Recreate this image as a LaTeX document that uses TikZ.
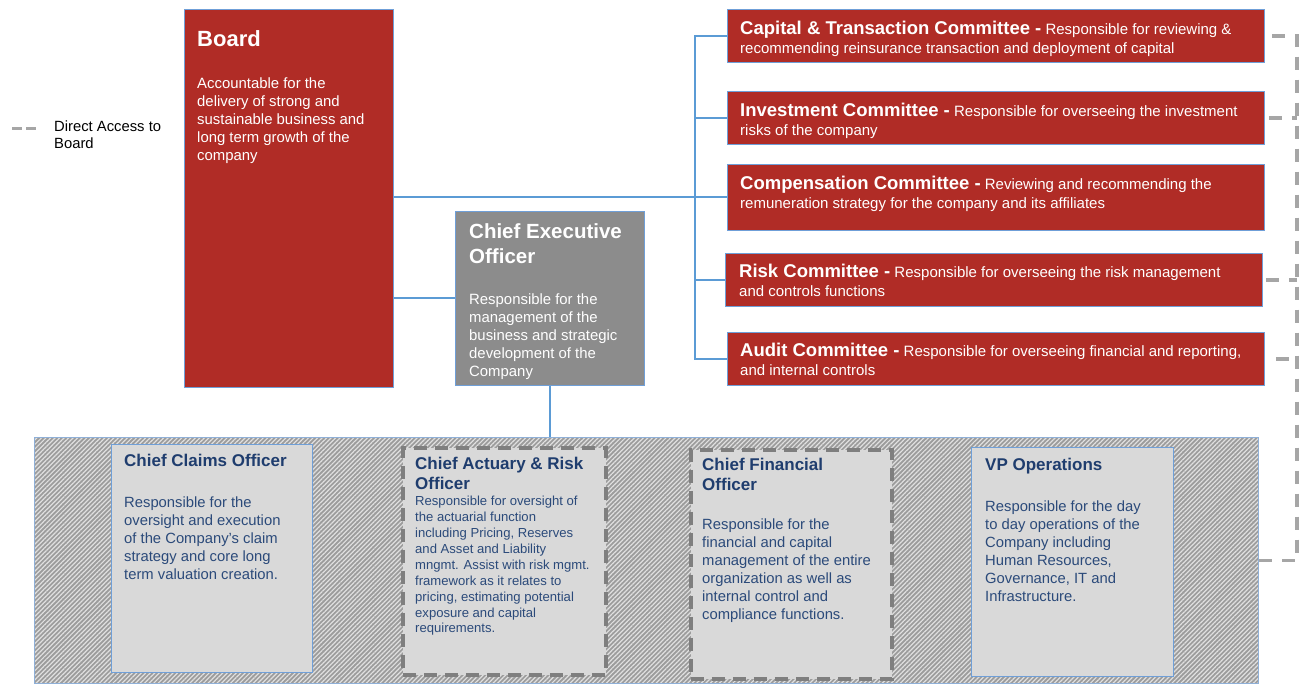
\documentclass[tikz,border=0pt]{standalone}
\usepackage{fontspec}
\setmainfont{Liberation Sans}
\usetikzlibrary{patterns.meta,calc}
\definecolor{boardred}{HTML}{B02C26}
\definecolor{ceogray}{HTML}{8C8C8C}
\definecolor{boxgray}{HTML}{D9D9D9}
\definecolor{edgeblue}{HTML}{6F9FD8}
\definecolor{bandedge}{HTML}{8FB0D8}
\definecolor{connblue}{HTML}{5B9BD5}
\definecolor{accgray}{HTML}{A6A6A6}
\definecolor{dashgray}{HTML}{7F7F7F}
\definecolor{navy}{HTML}{1F3D6E}
\definecolor{bodyblue}{HTML}{2B4A7A}
\definecolor{hatchdark}{HTML}{9C9C9C}
\definecolor{hatchlight}{HTML}{E0E0E0}
\newcommand\cmtitle{\bfseries\fontsize{18.5}{20}\selectfont}
\begin{document}
\begin{tikzpicture}[x=1pt,y=-1pt,
  redbox/.style={draw=edgeblue,line width=0.8pt,fill=boardred,anchor=north west,inner sep=0pt},
  ceobox/.style={draw=edgeblue,line width=0.8pt,fill=ceogray,anchor=north west,inner sep=0pt},
  offbox/.style={draw=edgeblue,line width=0.8pt,fill=boxgray,anchor=north west,inner sep=0pt},
  offdash/.style={draw=dashgray,line width=3.5pt,dash pattern=on 13pt off 8pt,fill=boxgray,anchor=north west,inner sep=0pt},
  conn/.style={draw=connblue,line width=2pt},
  acc/.style={draw=accgray,line width=3.2pt,dash pattern=on 13pt off 10pt},
  txt/.style={anchor=north west,inner sep=0pt,align=left},
  wtitle/.style={txt,text=white,font=\bfseries\fontsize{20.5}{25}\selectfont},
  wbody/.style={txt,text=white,font=\fontsize{14.9}{18}\selectfont},
  ctext/.style={txt,text=white,font=\fontsize{15}{19}\selectfont},
  btitle/.style={txt,text=navy,font=\bfseries\fontsize{17}{20}\selectfont},
  bbody/.style={txt,text=bodyblue,font=\fontsize{14.8}{18}\selectfont}
]
\useasboundingbox (0,0) rectangle (1301,683);

% legend
\coordinate (lg1) at (12,128);
\coordinate (lg2) at (36,128);
\draw[accgray,line width=3pt,dash pattern=on 10pt off 4pt] (lg1) -- (lg2);
\node[txt,font=\fontsize{14.8}{17}\selectfont] (legend) at (54,121) {Direct Access to\\Board};

% Board
\node[redbox,minimum width=209pt,minimum height=378pt] (board) at (184,9) {};
\node[anchor=base west,inner sep=0pt,text=white,font=\bfseries\fontsize{22}{26}\selectfont] (boardt) at (197,46) {Board};
\node[wbody] (boardb) at (197,77) {Accountable for the\\delivery of strong and\\sustainable business and\\long term growth of the\\company};

% CEO
\node[ceobox,minimum width=189pt,minimum height=174pt] (ceo) at (455,211) {};
\node[wtitle] (ceot) at (469,223) {Chief Executive\\Officer};
\node[wbody] (ceob) at (469,293) {Responsible for the\\management of the\\business and strategic\\development of the\\Company};

% Committees
\node[redbox,minimum width=537pt,minimum height=53pt] (cap) at (727,9) {};
\node[ctext] (capt) at (740,21) {{\cmtitle Capital \& Transaction Committee -} Responsible for reviewing \&\\recommending reinsurance transaction and deployment of capital};
\node[redbox,minimum width=537pt,minimum height=53pt] (inv) at (727,91) {};
\node[ctext] (invt) at (740,103) {{\cmtitle Investment Committee -} Responsible for overseeing the investment\\risks of the company};
\node[redbox,minimum width=537pt,minimum height=66pt] (comp) at (727,164) {};
\node[ctext] (compt) at (740,176) {{\cmtitle Compensation Committee -} Reviewing and recommending the\\remuneration strategy for the company and its affiliates};
\node[redbox,minimum width=537pt,minimum height=53pt] (risk) at (725,253) {};
\node[ctext] (riskt) at (739,264) {{\cmtitle Risk Committee -} Responsible for overseeing the risk management\\and controls functions};
\node[redbox,minimum width=537pt,minimum height=53pt] (aud) at (727,332) {};
\node[ctext] (audt) at (740,343) {{\cmtitle Audit Committee -} Responsible for overseeing financial and reporting,\\and internal controls};

% band
\fill[hatchdark] (34,437) rectangle (1258,683);
\fill[pattern={Lines[angle=45,distance=3.2pt,line width=1.2pt]},pattern color=hatchlight] (34,437) rectangle (1258,683);
\node[draw=bandedge,line width=0.8pt,anchor=north west,inner sep=0pt,minimum width=1224pt,minimum height=246pt] (band) at (34,437) {};

% officers
\node[offbox,minimum width=201pt,minimum height=228pt] (cco) at (111,444) {};
\node[anchor=base west,inner sep=0pt,text=navy,font=\bfseries\fontsize{17}{20}\selectfont] (ccot) at (124,466) {Chief Claims Officer};
\node[bbody] (ccob) at (124,497) {Responsible for the\\oversight and execution\\of the Company’s claim\\strategy and core long\\term valuation creation.};

\node[offdash,minimum width=203pt,minimum height=227pt] (car) at (401,446) {};
\node[btitle] (cart) at (415,457) {Chief Actuary \& Risk\\Officer};
\node[txt,text=bodyblue,font=\fontsize{13.1}{15.9}\selectfont] (carb) at (415,496) {Responsible for oversight of\\the actuarial function\\including Pricing, Reserves\\and Asset and Liability\\mngmt. Assist with risk mgmt.\\framework as it relates to\\pricing, estimating potential\\exposure and capital\\requirements.};

\node[offdash,minimum width=201pt,minimum height=229pt] (cfo) at (689,448) {};
\node[btitle] (cfot) at (702,458) {Chief Financial\\Officer};
\node[bbody] (cfob) at (702,519) {Responsible for the\\financial and capital\\management of the entire\\organization as well as\\internal control and\\compliance functions.};

\node[offbox,minimum width=202pt,minimum height=229pt] (vpo) at (971,447) {};
\node[anchor=base west,inner sep=0pt,text=navy,font=\bfseries\fontsize{17}{20}\selectfont] (vpot) at (985,470) {VP Operations};
\node[bbody] (vpob) at (985,501) {Responsible for the day\\to day operations of the\\Company including\\Human Resources,\\Governance, IT and\\Infrastructure.};

% blue connectors
\coordinate (bx) at (695,0);
\draw[conn] (board.east |- comp.west) -- (comp.west);
\draw[conn] (cap.west) -- (cap.west -| bx) -- (aud.west -| bx) -- (aud.west);
\draw[conn] (inv.west -| bx) -- (inv.west);
\draw[conn] (risk.west -| bx) -- (risk.west);
\draw[conn] (ceo.west -| board.east) -- (ceo.west);
\draw[conn] (ceo.south) -- (ceo.south |- band.north);

% direct access
\coordinate (ax) at (1297,0);
\draw[acc] ($(cap.east)+(7,0)$) -- (cap.east -| ax) -- (band.east -| ax) -- (band.east);
\draw[acc] ($(inv.east)+(4,0)$) -- (inv.east -| ax);
\draw[acc] ($(risk.east)+(3,0)$) -- (risk.east -| ax);
\draw[acc] ($(aud.east)+(11,0)$) -- (aud.east -| ax);
\end{tikzpicture}
\end{document}
